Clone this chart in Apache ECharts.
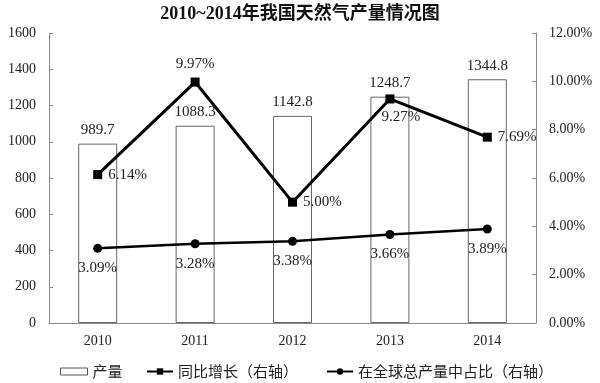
<!DOCTYPE html>
<html>
<head>
<meta charset="utf-8">
<script src="https://cdn.jsdelivr.net/npm/echarts@6/dist/echarts.min.js"></script>
<style>html,body{margin:0;padding:0;background:#fff;}#c{width:600px;height:383px;}</style>
</head>
<body>
<div id="c"></div>
<script>
const years = ['2010', '2011', '2012', '2013', '2014'];
const output = [989.7, 1088.3, 1142.8, 1248.7, 1344.8];
const growth = [6.14, 9.97, 5.00, 9.27, 7.69];
const share = [3.09, 3.28, 3.38, 3.66, 3.89];
const leftTicks = [0, 1600, 200];
const rightTicks = [0, 12, 2];

const serif = "'Liberation Serif', 'Times New Roman', serif";
const cjk = "'Noto Sans CJK SC', sans-serif";
const growthPos = ['right', 'top', 'right', 'bottom', 'right'];
const growthOffset = [[0, 0], [0, 0], [0, 0], [11, 0], [0, 0]];

const chart = echarts.init(document.getElementById('c'));
const legendText = { fontSize: 15, fontFamily: cjk, color: '#222' };
chart.setOption({
  animation: false,
  title: {
    text: '2010~2014年我国天然气产量情况图',
    left: 'center', top: 0,
    textStyle: { fontSize: 18, fontWeight: 'bold', fontFamily: "'Liberation Serif', 'Noto Sans CJK SC', serif", color: '#111' }
  },
  legend: [
    { data: [{ name: '产量', icon: 'rect' }], left: 55, top: 359, itemWidth: 27, itemHeight: 7, itemGap: 3, textStyle: legendText,
      itemStyle: { color: '#fff', borderColor: '#555', borderWidth: 1 } },
    { data: ['同比增长（右轴）'], left: 141, top: 359, itemWidth: 26, itemHeight: 8, textStyle: legendText },
    { data: ['在全球总产量中占比（右轴）'], left: 321, top: 359, itemWidth: 26, itemHeight: 8, textStyle: legendText }
  ],
  grid: { left: 49, right: 64, top: 33, bottom: 60, containLabel: false },
  xAxis: {
    type: 'category', data: years,
    axisLine: { lineStyle: { color: '#8a8a8a', width: 1 } },
    axisTick: { show: false },
    axisLabel: { fontSize: 14, fontFamily: serif, color: '#222', margin: 11 }
  },
  yAxis: [
    { type: 'value', min: leftTicks[0], max: leftTicks[1], interval: leftTicks[2],
      axisLine: { show: true, lineStyle: { color: '#8a8a8a' } },
      axisTick: { show: true, inside: true, length: 4, lineStyle: { color: '#8a8a8a' } },
      splitLine: { show: false },
      axisLabel: { fontSize: 14, fontFamily: serif, color: '#222', margin: 13, formatter: v => String(v) } },
    { type: 'value', min: rightTicks[0], max: rightTicks[1], interval: rightTicks[2], position: 'right',
      axisLine: { show: true, lineStyle: { color: '#8a8a8a' } },
      axisTick: { show: true, inside: true, length: 4, lineStyle: { color: '#8a8a8a' } },
      splitLine: { show: false },
      axisLabel: { fontSize: 14, fontFamily: serif, color: '#222', margin: 13, formatter: v => v.toFixed(2) + '%' } }
  ],
  series: [
    { name: '产量', type: 'bar', data: output, barWidth: 39,
      itemStyle: { color: '#fff', borderColor: '#666', borderWidth: 1 },
      label: { show: true, position: 'top', distance: 6, fontSize: 15, fontFamily: serif, color: '#222' } },
    { name: '同比增长（右轴）', type: 'line', yAxisIndex: 1,
      data: growth.map((v, i) => ({ value: v, label: { position: growthPos[i], offset: growthOffset[i] } })),
      symbol: 'rect', symbolSize: 9, lineStyle: { color: '#000', width: 3 }, itemStyle: { color: '#000' },
      label: { show: true, distance: 6, fontSize: 15, fontFamily: serif, color: '#222', formatter: p => p.value.toFixed(2) + '%' } },
    { name: '在全球总产量中占比（右轴）', type: 'line', yAxisIndex: 1, data: share,
      symbol: 'circle', symbolSize: 9, lineStyle: { color: '#000', width: 2.5 }, itemStyle: { color: '#000' },
      label: { show: true, position: 'bottom', distance: 8, fontSize: 15, fontFamily: serif, color: '#222', formatter: p => p.value.toFixed(2) + '%' } }
  ]
});
</script>
</body>
</html>
